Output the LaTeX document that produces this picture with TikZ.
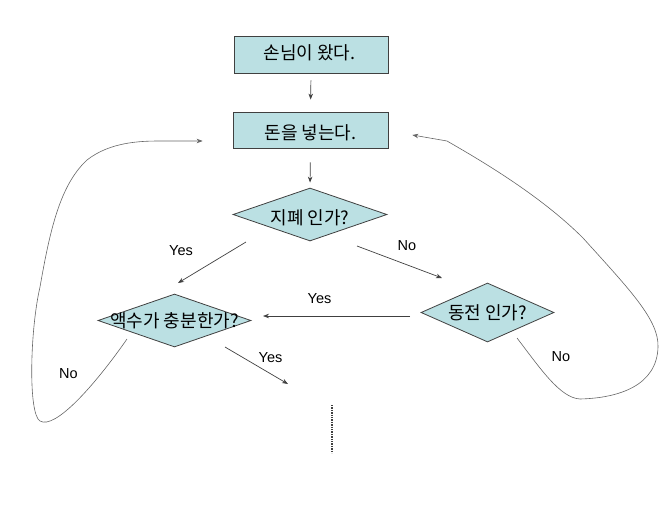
\documentclass[tikz,border=0pt]{standalone}
\usepackage{fontspec}
\setmainfont{Liberation Sans}
\newfontfamily\kr{Noto Sans CJK KR}
\usetikzlibrary{shapes.geometric,arrows.meta,calc}
\definecolor{boxfill}{HTML}{BBE0E3}
\definecolor{lineclr}{HTML}{404040}
\tikzset{
  stepbox/.style={draw=lineclr,line width=0.8pt,fill=boxfill,rectangle,inner sep=0pt},
  dia/.style={draw=lineclr,line width=0.8pt,fill=boxfill,diamond,inner sep=0pt},
  kor/.style={font=\kr\fontsize{18}{21}\selectfont,inner sep=0pt},
  lbl/.style={font=\fontsize{14.5}{17}\selectfont,inner sep=0pt},
  arr/.style={draw=lineclr,line width=0.7pt,-{Stealth[length=6pt,width=4.5pt]}},
  loop/.style={draw=lineclr!80,line width=0.6pt,-{Stealth[length=6pt,width=4.5pt]}},
}
\begin{document}
\begin{tikzpicture}[x=1pt,y=-1pt]
\useasboundingbox (0,0) rectangle (672,504);
% nodes
\node[stepbox,minimum width=154pt,minimum height=37pt] (b1) at (311,54.5) {};
\node[kor] at ($(b1)+(-1.5,-2)$) {손님이 왔다.};
\node[stepbox,minimum width=155pt,minimum height=36pt] (b2) at (310.5,130) {};
\node[kor] at ($(b2)+(0,3)$) {돈을 넣는다.};
\node[dia,minimum width=154pt,minimum height=53pt] (d1) at (310,214.5) {};
\node[kor] at ($(d1)+(0,3.5)$) {지폐 인가?};
\node[dia,minimum width=153pt,minimum height=53pt] (d2) at (174.5,320.5) {};
\node[kor] at (d2) {액수가 충분한가?};
\node[dia,minimum width=133pt,minimum height=59pt] (d3) at (487.5,312.5) {};
\node[kor] at (d3) {동전 인가?};
% labels
\node[lbl] (l1) at (181,251) {Yes};
\node[lbl] (l2) at (407,246) {No};
\node[lbl] (l3) at (319.5,298.5) {Yes};
\node[lbl] (l4) at (270.5,357.5) {Yes};
\node[lbl] (l5) at (68.5,373.5) {No};
\node[lbl] (l6) at (561,357) {No};
% connectors
\draw[arr,shorten <=7pt,shorten >=12pt] (b1.south) -- (b2.north);
\draw[arr,shorten <=14pt,shorten >=5pt] (b2.south) -- (d1.north);
\draw[arr] ($(d1.center)+(-64,27.5)$) -- ($(d2.center)+(3.5,-37.5)$);
\draw[arr] ($(d1.center)+(47,31.5)$) -- ($(d3.center)+(-45.5,-34.5)$);
\draw[arr] ($(d3.center)+(-77.5,3.5)$) -- ($(d2.center)+(88.5,-4.5)$);
\coordinate (cont) at (288,384);
\draw[arr] ($(d2.center)+(50.5,26.5)$) -- (cont);
\coordinate (dtop) at (332,405);
\coordinate (dbot) at (332,453);
\draw[lineclr,line width=2pt,dash pattern=on 1.3pt off 1.1pt] (dtop) -- (dbot);
% left loop
\draw[loop] ($(d2.center)+(-47.5,18.5)$)
  .. controls (95,385) and (55,430) .. (40,421)
  .. controls (28,414) and (30,330) .. (40,287)
  .. controls (50,230) and (60,185) .. (87,160)
  .. controls (110,142) and (140,141) .. (160,141)
  -- ($(b2.west)+(-30,11)$);
% right loop
\draw[loop] ($(d3.center)+(29.5,25.5)$)
  .. controls (540,368) and (560,398) .. (580,399)
  .. controls (620,398) and (657,385) .. (658,347)
  .. controls (659,320) and (630,290) .. (583,238)
  .. controls (540,195) and (480,160) .. (447,141)
  -- ($(b2.east)+(24,5)$);
\end{tikzpicture}
\end{document}
